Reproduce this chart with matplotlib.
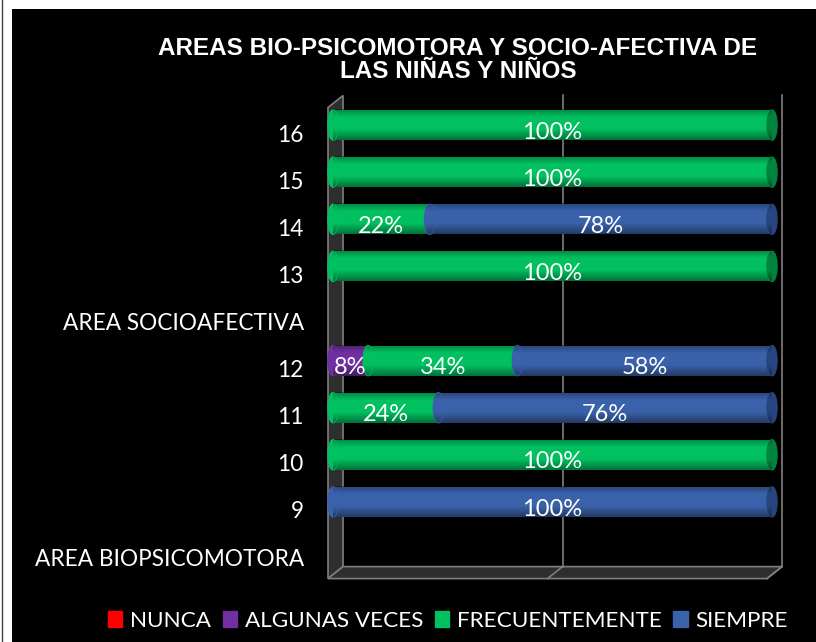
import numpy as np
import matplotlib
matplotlib.use("Agg")
import matplotlib.pyplot as plt
from matplotlib.patches import Ellipse, Polygon, Rectangle
from matplotlib.transforms import ScaledTranslation, IdentityTransform

# categories, bottom to top
categories = ["AREA BIOPSICOMOTORA", "9", "10", "11", "12",
              "AREA SOCIOAFECTIVA", "13", "14", "15", "16"]
series = ["NUNCA", "ALGUNAS VECES", "FRECUENTEMENTE", "SIEMPRE"]
nunca = [0, 0, 0, 0, 0, 0, 0, 0, 0, 0]
algunas = [0, 0, 0, 0, 8, 0, 0, 0, 0, 0]
frecuente = [0, 0, 100, 24, 34, 0, 100, 22, 100, 100]
siempre = [0, 100, 0, 76, 58, 0, 0, 78, 0, 0]
colors = ["#FF0000", "#7030A0", "#00C060", "#3A62AA"]
dark = ["#B00000", "#4E2070", "#00853F", "#27467F"]

title = "AREAS BIO-PSICOMOTORA Y SOCIO-AFECTIVA DE\nLAS NIÑAS Y NIÑOS"

W, H = 816, 642
fig = plt.figure(figsize=(W / 100, H / 100), dpi=100, facecolor="white")
# black chart area with white margin top/left
fig.patches.append(Rectangle((12 / W, 0), 1, 1 - 9 / H, transform=fig.transFigure,
                             facecolor="black", edgecolor="none", zorder=-5))
fig.lines.append(plt.Line2D([2 / W, 2 / W], [0, 1], transform=fig.transFigure,
                            color="#404040", lw=1, zorder=-4))

ax = fig.add_axes([333 / W, 1 - 572.6 / H, 439 / W, 471.1 / H])
ax.set_facecolor("none")
ax.set_xlim(0, 100)
ax.set_ylim(-0.5, len(categories) - 0.5)
for s in ax.spines.values():
    s.set_visible(False)
ax.set_xticks([])

# 3D-ish back wall, floor and gridlines
def px(dx, dy):
    return ScaledTranslation(dx / 100, dy / 100, fig.dpi_scale_trans)

back = ax.transData + px(10, 6)
front = ax.transData + px(-5, -6)
y0, y1 = -0.5, len(categories) - 0.5
ident = IdentityTransform()
pts = np.vstack([front.transform([(0, y0), (0, y1)]),
                 back.transform([(0, y1), (0, y0)])])
ax.add_patch(Polygon(pts, closed=True, transform=ident, facecolor="#2E2E2E",
                     edgecolor="#7F7F7F", lw=1.2, zorder=1, clip_on=False))
pts = np.vstack([front.transform([(0, y0), (100, y0)]),
                 back.transform([(100, y0), (0, y0)])])
ax.add_patch(Polygon(pts, closed=True, transform=ident, facecolor="#2E2E2E",
                     edgecolor="#7F7F7F", lw=1.2, zorder=1, clip_on=False))
for g in [50, 100]:
    ax.plot([g, g], [y0, y1], color="#7F7F7F", lw=1.2, transform=back, zorder=1,
            clip_on=False)
    p = np.vstack([back.transform([(g, y0)]), front.transform([(g, y0)])])
    ax.plot(p[:, 0], p[:, 1], transform=ident, color="#7F7F7F", lw=1.2, zorder=1,
            clip_on=False)

# cylinder shading: dark at the edges, bright in the middle
t = np.linspace(0, 1, 40)
alpha = np.clip(0.3 * (1 - t / 0.25), 0, None) + np.clip(0.4 * (t - 0.65) / 0.35, 0, None)
shade = np.zeros((len(t), 1, 4))
shade[:, 0, 3] = alpha

# bars
ypos = np.arange(len(categories))
h = 0.64
cap = 2.3
left = np.zeros(len(categories))
data = [nunca, algunas, frecuente, siempre]
last = np.zeros(len(categories), dtype=int) - 1
for j, vals in enumerate(data):
    for i, v in enumerate(vals):
        if v > 0:
            last[i] = j
for j, vals in enumerate(data):
    vals = np.array(vals, dtype=float)
    for i, v in enumerate(vals):
        if v <= 0:
            continue
        ax.barh(ypos[i], v, left=left[i], height=h, color=colors[j], zorder=3 + j)
        ax.imshow(shade, extent=(left[i], left[i] + v, ypos[i] - h / 2, ypos[i] + h / 2),
                  aspect="auto", zorder=3 + j, interpolation="bilinear")
        ends = [(left[i], colors[j])]
        if last[i] == j:
            ends.append((left[i] + v, dark[j]))
        for xe, ce in ends:
            e = Ellipse((xe, ypos[i]), cap, h, color=ce, zorder=3 + j, clip_on=False)
            ax.add_patch(e)
            im = ax.imshow(shade, extent=(xe - cap / 2, xe + cap / 2,
                                          ypos[i] - h / 2, ypos[i] + h / 2),
                           aspect="auto", zorder=3 + j, interpolation="bilinear")
            im.set_clip_path(e)
        ax.text(left[i] + v / 2, ypos[i] - 0.15, f"{v:.0f}%", ha="center",
                va="center", color="white", fontsize=17, family="Lato", zorder=10)
    left += vals

ax.set_xlim(0, 100)
ax.set_ylim(-0.5, len(categories) - 0.5)
ax.set_yticks(ypos)
ax.set_yticklabels(categories, fontsize=16.3, family="Lato", color="white")
ax.tick_params(axis="y", length=0, pad=21)
for lab in ax.get_yticklabels():
    lab.set_transform(lab.get_transform() + px(0, -8))

fig.text(458 / W, 1 - 60 / H, title, ha="center", va="center", color="white",
         fontsize=17.5, fontweight="bold", family="Liberation Sans", linespacing=1.05)

handles = [Rectangle((0, 0), 1, 1, color=c) for c in colors]
fig.legend(handles, series, loc="center", bbox_to_anchor=(448 / W, 1 - 621 / H),
           ncol=4, frameon=False, handlelength=0.65, handleheight=0.7,
           handletextpad=0.35, columnspacing=0.5,
           prop={"family": "Lato", "size": 16.2}, labelcolor="white")

fig.savefig("out.png", dpi=100, facecolor=fig.get_facecolor())
